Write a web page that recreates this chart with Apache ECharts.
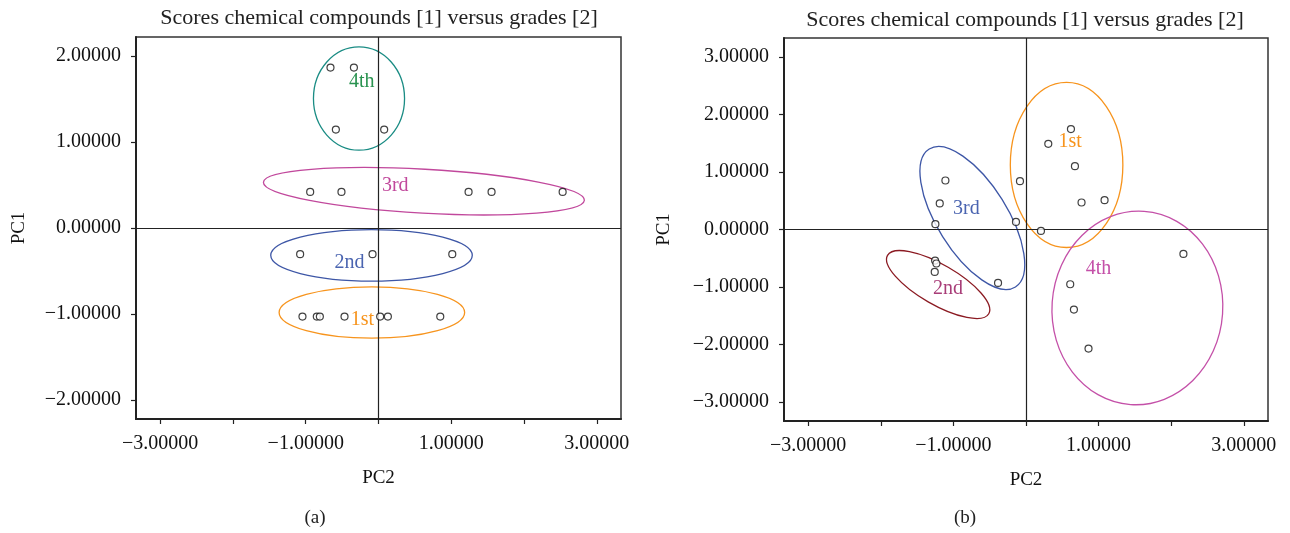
<!DOCTYPE html>
<html>
<head>
<meta charset="utf-8">
<script src="https://cdn.jsdelivr.net/npm/echarts@6/dist/echarts.min.js"></script>
<style>html,body{margin:0;padding:0;background:#fff}#c{width:1290px;height:533px}</style>
</head>
<body>
<div id="c"></div>
<script>
// ---------- DATA ----------
const titleText = 'Scores chemical compounds [1] versus grades [2]';
const xTicks = [-3, -2, -1, 0, 1, 2, 3];
const xTickLabels = [-3, -1, 1, 3];
const yTicksA = [-2, -1, 0, 1, 2];
const yTicksB = [-3, -2, -1, 0, 1, 2, 3];

// Panel (a): points [PC2, PC1]
const a1st = [[-1.045,-1.03],[-0.848,-1.03],[-0.806,-1.03],[-0.467,-1.03],[0.023,-1.03],[0.129,-1.03],[0.849,-1.03]];
const a2nd = [[-1.077,-0.305],[-0.082,-0.305],[1.014,-0.305]];
const a3rd = [[-0.939,0.42],[-0.509,0.42],[1.238,0.42],[1.554,0.42],[2.531,0.42]];
const a4th = [[-0.66,1.866],[-0.338,1.866],[-0.586,1.145],[0.078,1.145]];

// Panel (b): points [PC2, PC1]
const b1st = [[0.619,1.747],[0.307,1.492],[0.674,1.103],[0.765,0.47],[1.082,0.51],[-0.083,0.841],[0.206,-0.024]];
const b2nd = [[-1.252,-0.54],[-1.234,-0.592],[-1.257,-0.739]];
const b3rd = [[-1.11,0.853],[-1.188,0.453],[-1.248,0.092],[-0.138,0.132],[-0.385,-0.93]];
const b4th = [[2.168,-0.425],[0.609,-0.953],[0.66,-1.394],[0.861,-2.073]];

// Group ellipses: [centerX, centerY, radiusX, radiusY, rotationDeg, labelX, labelY]
const groupNames = ['1st', '2nd', '3rd', '4th'];
const aEllipses = [
  [-0.091, -0.983, 1.275, 0.299, 0, -0.22, -1.07],
  [-0.096, -0.318, 1.385, 0.300, 0, -0.40, -0.41],
  [0.624, 0.428, 2.209, 0.256, -3.2, 0.23, 0.49],
  [-0.268, 1.506, 0.626, 0.601, 0, -0.23, 1.70]
];
const bEllipses = [
  [0.559, 1.124, 0.775, 1.437, 0, 0.609, 1.52],
  [-1.21, -0.958, 0.805, 0.348, -30, -1.073, -1.03],
  [-0.739, 0.200, 1.12, 0.61, -58, -0.821, 0.354],
  [1.534, -1.366, 1.176, 1.685, -4, 0.999, -0.69]
];
// ---------- STYLE ----------
const FONT = 'Liberation Serif';
const aEllColors = ['#f7941d', '#3d56a6', '#c1489c', '#1a8c84'];
const aLblColors = ['#f7941d', '#4a64b0', '#c1489c', '#2a9350'];
const bEllColors = ['#f7941d', '#8b1a22', '#3d56a6', '#c450a8'];
const bLblColors = ['#f7941d', '#a83d78', '#4a64b0', '#c450a8'];

function fmt(v) { return (v < 0 ? '\u2212' : '') + Math.abs(v).toFixed(5); }

function makeAxes(idx, yTicks, yMax) {
  const common = {
    gridIndex: idx, type: 'value', splitLine: { show: false },
    axisLine: { show: true, onZero: false, lineStyle: { color: '#222', width: 2 } },
    axisTick: { show: true, inside: false, length: 5, lineStyle: { color: '#222', width: 1.2 } },
    axisLabel: { color: '#111', fontFamily: FONT, fontSize: 20 },
    nameTextStyle: { color: '#111', fontFamily: FONT, fontSize: 19 },
    nameLocation: 'middle'
  };
  const x = JSON.parse(JSON.stringify(common));
  x.min = -3.333; x.max = 3.333; x.name = 'PC2'; x.nameGap = 50;
  x.axisTick.customValues = xTicks;
  x.axisLabel.customValues = xTickLabels; x.axisLabel.formatter = fmt; x.axisLabel.margin = 15;
  const y = JSON.parse(JSON.stringify(common));
  y.min = -yMax; y.max = yMax; y.name = 'PC1'; y.nameGap = idx === 0 ? 107 : 110;
  y.axisTick.customValues = yTicks;
  y.axisLabel.customValues = yTicks; y.axisLabel.formatter = fmt; y.axisLabel.margin = 15;
  y.nameRotate = 90;
  return { x, y };
}
const axA = makeAxes(0, yTicksA, 2.222);
const axB = makeAxes(1, yTicksB, 3.333);

function pointSeries(data, idx) {
  return {
    type: 'scatter', xAxisIndex: idx, yAxisIndex: idx, data: data,
    symbol: 'circle', symbolSize: 7,
    itemStyle: { color: '#fff', borderColor: '#111', borderWidth: 1.2 },
    z: 5, silent: true
  };
}
function ellipseSeries(ells, idx, ellColors, lblColors) {
  return {
    type: 'custom', xAxisIndex: idx, yAxisIndex: idx, silent: true, z: 3,
    data: ells.map((e, i) => e.concat([i])),
    renderItem: function (params, api) {
      const c = api.coord([api.value(0), api.value(1)]);
      const s = api.size([api.value(2), api.value(3)]);
      const l = api.coord([api.value(5), api.value(6)]);
      const gi = api.value(7);
      return {
        type: 'group',
        children: [
          { type: 'ellipse', x: c[0], y: c[1], rotation: api.value(4) * Math.PI / 180,
            shape: { cx: 0, cy: 0, rx: s[0], ry: s[1] },
            style: { fill: null, stroke: ellColors[gi], lineWidth: 1.3 } },
          { type: 'text', x: l[0], y: l[1],
            style: { text: groupNames[gi], fill: lblColors[gi], font: '20px "' + FONT + '"', textAlign: 'center', textVerticalAlign: 'middle' } }
        ]
      };
    }
  };
}
function crossSeries(idx) {
  return {
    type: 'scatter', xAxisIndex: idx, yAxisIndex: idx, data: [], silent: true,
    markLine: { silent: true, symbol: 'none', label: { show: false }, animation: false,
      lineStyle: { color: '#222', width: 1.2, type: 'solid' },
      data: [{ xAxis: 0 }, { yAxis: 0 }] }
  };
}

const chart = echarts.init(document.getElementById('c'), null, { renderer: 'canvas' });
chart.setOption({
  animation: false,
  backgroundColor: '#fff',
  grid: [
    { left: 136, right: 669, top: 37, bottom: 114, show: true, borderColor: '#333', borderWidth: 1.5 },
    { left: 784, right: 22, top: 38, bottom: 112, show: true, borderColor: '#333', borderWidth: 1.5 }
  ],
  xAxis: [axA.x, axB.x],
  yAxis: [axA.y, axB.y],
  graphic: [
    { type: 'text', x: 379, y: 18, style: { text: titleText, font: '22px "' + FONT + '"', fill: '#222', textAlign: 'center', textVerticalAlign: 'middle' } },
    { type: 'text', x: 1025, y: 20, style: { text: titleText, font: '22px "' + FONT + '"', fill: '#222', textAlign: 'center', textVerticalAlign: 'middle' } },
    { type: 'text', x: 315, y: 518, style: { text: '(a)', font: '19px "' + FONT + '"', fill: '#222', textAlign: 'center', textVerticalAlign: 'middle' } },
    { type: 'text', x: 965, y: 518, style: { text: '(b)', font: '19px "' + FONT + '"', fill: '#222', textAlign: 'center', textVerticalAlign: 'middle' } }
  ],
  series: [
    crossSeries(0), crossSeries(1),
    ellipseSeries(aEllipses, 0, aEllColors, aLblColors),
    ellipseSeries(bEllipses, 1, bEllColors, bLblColors),
    pointSeries(a1st, 0), pointSeries(a2nd, 0), pointSeries(a3rd, 0), pointSeries(a4th, 0),
    pointSeries(b1st, 1), pointSeries(b2nd, 1), pointSeries(b3rd, 1), pointSeries(b4th, 1)
  ]
});
</script>
</body>
</html>
